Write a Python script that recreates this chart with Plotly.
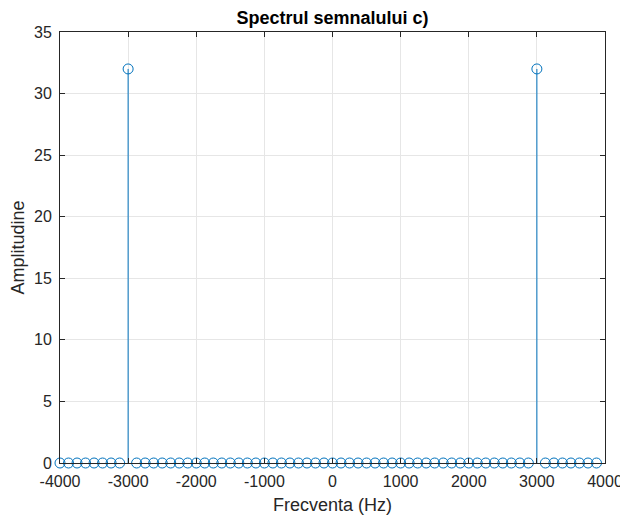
import plotly.graph_objects as go

freqs = [-4000 + 125 * i for i in range(64)]
amps = [0.0] * 64
amps[freqs.index(-3000)] = 32.0
amps[freqs.index(3000)] = 32.0

x_ticks = [-4000, -3000, -2000, -1000, 0, 1000, 2000, 3000, 4000]
y_ticks = [0, 5, 10, 15, 20, 25, 30, 35]

blue = "#0072BD"
axc = "#262626"

sx, sy = [], []
for f, a in zip(freqs, amps):
    if a != 0:
        sx += [f, f, None]
        sy += [0, a, None]

fig = go.Figure()
fig.add_trace(go.Scatter(x=sx, y=sy, mode="lines", line=dict(color=blue, width=1),
                         hoverinfo="skip", showlegend=False))
fig.add_trace(go.Scatter(x=freqs, y=amps, mode="markers", cliponaxis=False,
                         marker=dict(symbol="circle-open", size=10, color=blue,
                                     line=dict(width=1, color=blue)),
                         showlegend=False))

font = "Liberation Sans, Arial, sans-serif"
axis_common = dict(showline=True, linecolor=axc, linewidth=1, mirror="ticks",
                   ticks="inside", ticklen=5, tickcolor=axc, showgrid=True,
                   gridcolor="#E6E6E6", gridwidth=1, zeroline=False, automargin=False,
                   tickfont=dict(family=font, size=16, color=axc))

W, H = 620, 511
fig.update_layout(
    width=W, height=H,
    margin=dict(l=52, r=23, t=24, b=56),
    paper_bgcolor="white", plot_bgcolor="white",
    title=dict(text="<b>Spectrul semnalului c)</b>", x=0.5, xanchor="center",
               xref="paper", y=1 - 10 / H, yanchor="middle",
               font=dict(family=font, size=18, color="black")),
    xaxis=dict(range=[-4000, 4000], tickvals=x_ticks, ticktext=[str(v) for v in x_ticks],
               ticklabelstandoff=4,
               title=dict(text="Frecventa (Hz)", font=dict(family=font, size=18, color=axc), standoff=9),
               **axis_common),
    yaxis=dict(range=[0, 35], tickvals=y_ticks, ticklabelstandoff=4,
               title=dict(text="Amplitudine", font=dict(family=font, size=18, color=axc), standoff=12),
               **axis_common),
)

fig.write_html("out.html")
